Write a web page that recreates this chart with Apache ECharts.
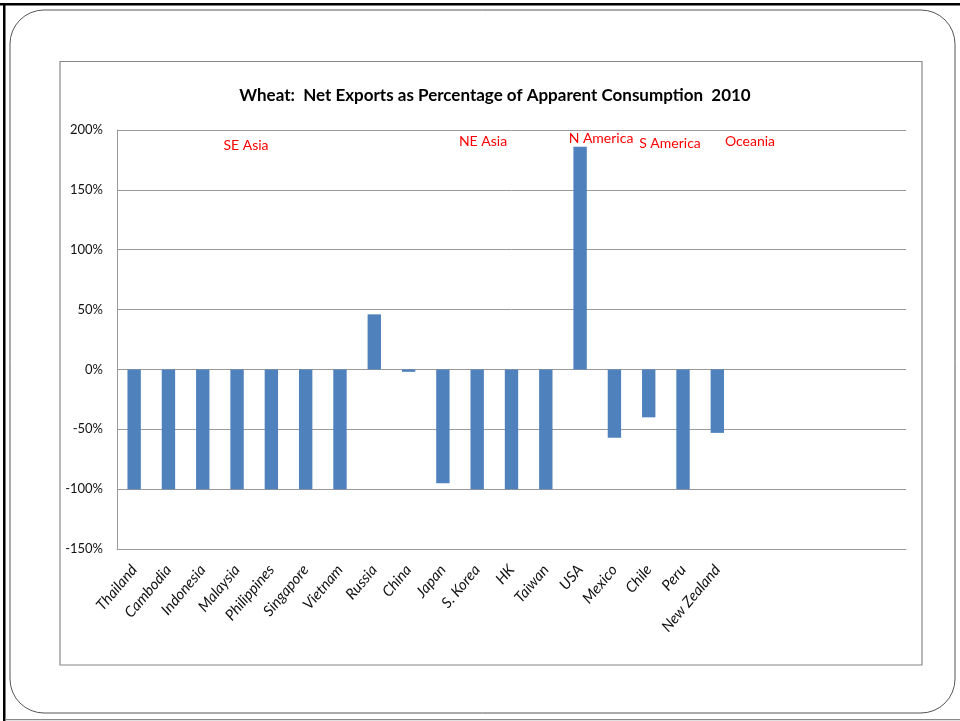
<!DOCTYPE html>
<html>
<head>
<meta charset="utf-8">
<script src="https://cdn.jsdelivr.net/npm/echarts@6/dist/echarts.min.js"></script>
<style>
html,body{margin:0;padding:0;background:#fff;}
#c{width:960px;height:721px;}
</style>
</head>
<body>
<div id="c"></div>
<script>
var categories = ['Thailand','Cambodia','Indonesia','Malaysia','Philippines','Singapore','Vietnam','Russia','China','Japan','S. Korea','HK','Taiwan','USA','Mexico','Chile','Peru','New Zealand','','','','',''];
var netExportsPct = [-100,-100,-100,-100,-100,-100,-100,46,-2,-95,-100,-100,-100,186,-57,-40,-100,-53,null,null,null,null,null];
var yTicks = {min:-150, max:200, interval:50};
var regionLabels = ['SE Asia','NE Asia','N America','S America','Oceania'];
var regionPos = [[246,145],[483,141],[601,138],[670,143],[750,141]];

var FONT = 'Lato, "Liberation Sans", sans-serif';
var chart = echarts.init(document.getElementById('c'), null, {renderer:'canvas'});

var graphics = [
  {type:'rect', shape:{x:0,y:3,width:960,height:2.5}, style:{fill:'#000'}, silent:true},
  {type:'rect', shape:{x:3,y:3,width:2.5,height:718}, style:{fill:'#000'}, silent:true},
  {type:'rect', shape:{x:5,y:719,width:955,height:1.2}, style:{fill:'#888'}, silent:true},
  {type:'rect', shape:{x:10,y:10,width:945,height:703,r:34}, style:{fill:'none',stroke:'#555',lineWidth:1}, silent:true},
  {type:'rect', shape:{x:60,y:61.5,width:862,height:603.5}, style:{fill:'none',stroke:'#888',lineWidth:1.2}, silent:true}
];
regionLabels.forEach(function(t,i){
  graphics.push({type:'text', x:regionPos[i][0], y:regionPos[i][1], style:{text:t, fill:'#ff0000', font:'14px '+FONT, textAlign:'center', textVerticalAlign:'middle'}, silent:true, z:10});
});

chart.setOption({
  animation:false,
  backgroundColor:'#fff',
  title:{
    text:'Wheat:  Net Exports as Percentage of Apparent Consumption  2010',
    left:490, top:82, textAlign:'center',
    textStyle:{fontFamily:FONT, fontSize:17, fontWeight:'bold', color:'#000'}
  },
  grid:{left:117, top:130, right:54, bottom:172, containLabel:false},
  xAxis:{
    type:'category', data:categories,
    axisLine:{show:true, onZero:false, lineStyle:{color:'#9a9a9a', width:1}},
    axisTick:{show:false},
    axisLabel:{rotate:50, interval:0, margin:18, fontFamily:FONT, fontSize:15, fontStyle:'italic', color:'#111'},
    splitLine:{show:false}
  },
  yAxis:{
    type:'value', min:yTicks.min, max:yTicks.max, interval:yTicks.interval,
    axisLine:{show:true, lineStyle:{color:'#9a9a9a', width:1}},
    axisTick:{show:false},
    axisLabel:{formatter:'{value}%', margin:14, fontFamily:FONT, fontSize:13, color:'#111'},
    splitLine:{show:true, lineStyle:{color:'#9a9a9a', width:1}}
  },
  series:[{
    type:'bar', data:netExportsPct, barWidth:'39%',
    itemStyle:{color:'#4f81bd'}
  }],
  graphic:graphics
});
</script>
</body>
</html>
